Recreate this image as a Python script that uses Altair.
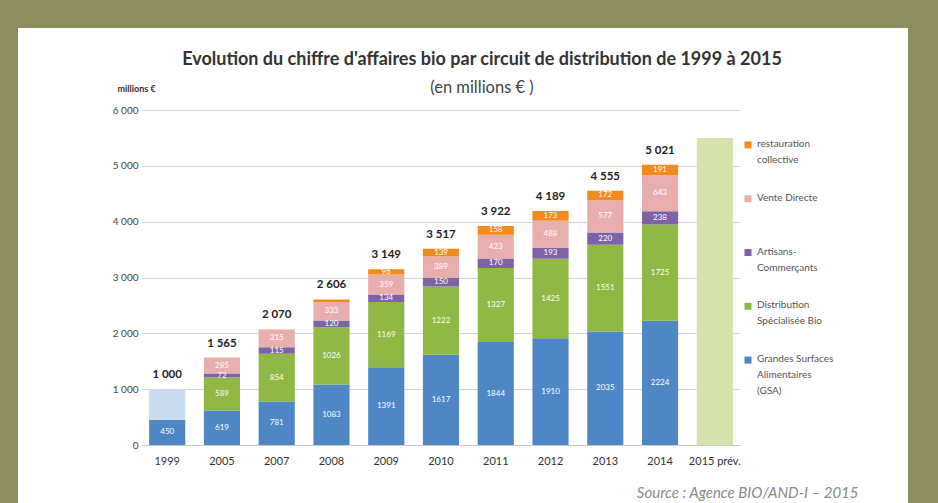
import altair as alt
import pandas as pd

# ---------------- data ----------------
years = ["1999", "2005", "2007", "2008", "2009", "2010", "2011", "2012", "2013", "2014", "2015 prév."]
gsa = [450, 619, 781, 1083, 1391, 1617, 1844, 1910, 2035, 2224, 0]
dsb = [0, 589, 854, 1026, 1169, 1222, 1327, 1425, 1551, 1725, 0]
art = [0, 72, 115, 120, 134, 150, 170, 193, 220, 238, 0]
vd = [0, 285, 315, 333, 359, 389, 423, 488, 577, 643, 0]
rc = [0, 0, 5, 44, 96, 139, 158, 173, 172, 191, 0]
total_1999_unsplit = [550, 0, 0, 0, 0, 0, 0, 0, 0, 0, 0]
prev_2015 = [0, 0, 0, 0, 0, 0, 0, 0, 0, 0, 5500]
totals = [1000, 1565, 2070, 2606, 3149, 3517, 3922, 4189, 4555, 5021, None]

series_names = [
    "Grandes Surfaces Alimentaires (GSA)",
    "Distribution Spécialisée Bio",
    "Artisans-Commerçants",
    "Vente Directe",
    "restauration collective",
    "1999 total",
    "2015 prévision",
]
series_values = [gsa, dsb, art, vd, rc, total_1999_unsplit, prev_2015]
series_colors = ["#4f86c6", "#8fb844", "#7d63a6", "#e8aeae", "#f28a1c", "#c9ddf0", "#d5e2ab"]

legend_names = [
    "restauration collective",
    "Vente Directe",
    "Artisans-Commerçants",
    "Distribution Spécialisée Bio",
    "Grandes Surfaces Alimentaires (GSA)",
]
legend_labels = [
    "restauration\ncollective",
    "Vente Directe",
    "Artisans-\nCommerçants",
    "Distribution\nSpécialisée Bio",
    "Grandes Surfaces\nAlimentaires\n(GSA)",
]

title_text = "Evolution du chiffre d'affaires bio par circuit de distribution de 1999 à 2015"
subtitle_text = "(en millions € )"

# ---------------- tables ----------------
rows = []
for i, yr in enumerate(years):
    base = 0
    for k, (name, vals) in enumerate(zip(series_names, series_values)):
        v = vals[i]
        if v and v > 0:
            rows.append({
                "year": yr, "series": name, "value": v,
                "y0": base, "y1": base + v, "mid": base + v / 2,
                "label": str(v) if (v >= 50 and k < 5) else "",
            })
            base += v
bars = pd.DataFrame(rows)

tot = pd.DataFrame({"year": years, "total": totals}).dropna()
leg = pd.DataFrame({"series": legend_names, "text": legend_labels})

FONT = "Lato"
color_scale = alt.Scale(domain=series_names, range=series_colors)
x_enc = alt.X(
    "year:N", sort=years,
    scale=alt.Scale(paddingInner=0.34, paddingOuter=0.13),
    axis=alt.Axis(
        title="Source : Agence BIO/AND-I – 2015", titleX=716, titleY=47,
        titleAlign="right", titleBaseline="middle", titleFontStyle="italic",
        titleFontWeight="normal", titleColor="#8a8a8a", titleFontSize=15,
        titleFont=FONT,
        labelAngle=0, ticks=False, domainColor="#c8c8c8", labelFontSize=11,
        labelColor="#333333", labelPadding=10, labelFont=FONT, grid=False,
    ),
)
y_scale = alt.Scale(domain=[0, 6000])

bar_layer = alt.Chart(bars).mark_bar().encode(
    x=x_enc,
    y=alt.Y(
        "y0:Q", scale=y_scale,
        axis=alt.Axis(
            values=[0, 1000, 2000, 3000, 4000, 5000, 6000],
            labelExpr="replace(format(datum.value, ',d'), ',', ' ')",
            title="millions €", titleAngle=0, titleX=-25, titleY=-22,
            titleAlign="left", titleBaseline="middle", titleFontSize=9,
            titleFontWeight="bold", titleColor="#333333", titleFont=FONT,
            domain=False, ticks=False, gridColor="#d4d4d4",
            labelFontSize=10, labelColor="#444444", labelPadding=4, labelFont=FONT,
        ),
    ),
    y2="y1:Q",
    color=alt.Color("series:N", scale=color_scale, legend=None),
)

seg_labels = alt.Chart(bars).mark_text(
    color="white", fontSize=8, font=FONT, baseline="middle"
).encode(
    x=alt.X("year:N", sort=years),
    y=alt.Y("mid:Q", scale=y_scale),
    text="label:N",
)

total_labels = alt.Chart(tot).transform_calculate(
    lab="replace(format(datum.total, ',d'), ',', ' ')"
).mark_text(
    fontSize=11.5, fontWeight="bold", font=FONT, color="#222222",
    baseline="bottom", dy=-9,
).encode(
    x=alt.X("year:N", sort=years),
    y=alt.Y("total:Q", scale=y_scale),
    text="lab:N",
)

main = alt.layer(bar_layer, seg_labels, total_labels)

leg_y = alt.Y("series:N", scale=alt.Scale(domain=legend_names, range=[8, 277]), axis=None)
leg_squares = alt.Chart(leg).mark_square(size=49, opacity=1).encode(
    x=alt.value(606),
    y=leg_y,
    color=alt.Color("series:N", scale=color_scale, legend=None),
)
leg_text = alt.Chart(leg).mark_text(
    align="left", baseline="top", dy=-6, lineBreak="\n", lineHeight=16,
    fontSize=10, font=FONT, color="#555555",
).encode(
    x=alt.value(615),
    y=leg_y,
    text="text:N",
)
legend_layer = alt.layer(leg_squares, leg_text)

one = alt.Data(values=[{"a": 1}])
title_mark = alt.Chart(one).mark_text(
    fontSize=18, fontWeight="bold", font=FONT, color="#333333",
    align="center", baseline="middle",
).encode(x=alt.value(340), y=alt.value(-50), text=alt.value(title_text))
subtitle_mark = alt.Chart(one).mark_text(
    fontSize=16.5, font=FONT, color="#444444", align="center", baseline="middle",
).encode(x=alt.value(340), y=alt.value(-22), text=alt.value(subtitle_text))

frame_color = "#8d8e5f"
frame_left = alt.Chart(one).mark_rect(color=frame_color).encode(
    x=alt.value(-142), x2=alt.value(-124), y=alt.value(-110), y2=alt.value(393))
frame_top = alt.Chart(one).mark_rect(color=frame_color).encode(
    x=alt.value(-142), x2=alt.value(796), y=alt.value(-110), y2=alt.value(-82))
frame_right = alt.Chart(one).mark_rect(color=frame_color).encode(
    x=alt.value(766), x2=alt.value(796), y=alt.value(-110), y2=alt.value(393))
deco = alt.layer(title_mark, subtitle_mark, frame_left, frame_top, frame_right)

chart = alt.layer(
    main, legend_layer, deco,
).resolve_scale(
    y="independent"
).properties(
    width=598, height=335,
    autosize=alt.AutoSizeParams(type="none"),
    padding={"left": 142, "top": 110, "right": 198, "bottom": 58},
    background="white",
).configure_view(stroke=None)

chart.save("out.html", embed_options={"renderer": "svg", "actions": False})
